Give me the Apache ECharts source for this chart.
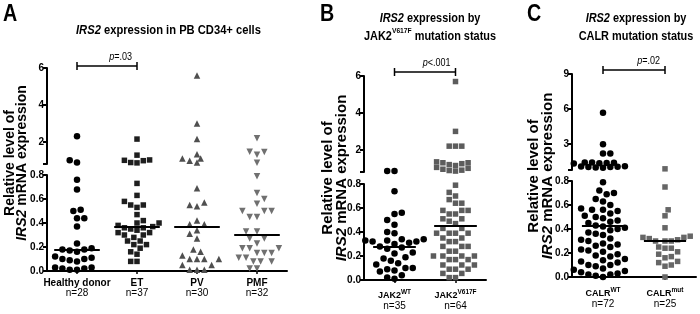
<!DOCTYPE html>
<html>
<head>
<meta charset="utf-8">
<script src="https://cdn.jsdelivr.net/npm/echarts@6.0.0/dist/echarts.min.js"></script>
<style>
  html, body { margin: 0; padding: 0; background: #fff; }
  #chart { width: 700px; height: 314px; }
</style>
</head>
<body>
<div id="chart"></div>
<script>
// values
const BREAK = 0.8;
const lowerTicks = [0, 0.2, 0.4, 0.6, 0.8];
const upperTicksAB = [2, 4, 6];
const upperTicksC = [3, 6, 9];

const catsA = ["Healthy donor", "ET", "PV", "PMF"];
const countsA = [28, 37, 30, 32];
const catsB = ["JAK2", "JAK2"];
const supB = ["WT", "V617F"];
const countsB = [35, 64];
const catsC = ["CALR", "CALR"];
const supC = ["WT", "mut"];
const countsC = [72, 25];

const pA = ["p", "=.03"];
const pB = ["p", "<.001"];
const pC = ["p", "=.02"];

const healthyDonor = [2.3, 1.0, 0.88, 0.76, 0.68, 0.51, 0.50, 0.44, 0.44, 0.37, 0.23, 0.19, 0.18, 0.18,
  0.17, 0.16, 0.12, 0.11, 0.10, 0.10, 0.09, 0.08, 0.03, 0.03, 0.02, 0.02, 0.01, 0.01];
const et = [2.15, 1.28, 1.02, 1.0, 0.98, 0.88, 0.86, 0.73, 0.63, 0.58, 0.55, 0.55, 0.53, 0.47, 0.42,
  0.40, 0.40, 0.38, 0.37, 0.36, 0.36, 0.35, 0.34, 0.32, 0.32, 0.30, 0.30, 0.28, 0.25, 0.25, 0.22,
  0.22, 0.19, 0.16, 0.14, 0.08, 0.08];
const pv = [5.6, 3.0, 2.15, 1.33, 1.1, 1.1, 0.98, 0.88, 0.69, 0.57, 0.55, 0.54, 0.42, 0.39, 0.39,
  0.34, 0.31, 0.27, 0.18, 0.16, 0.13, 0.10, 0.10, 0.10, 0.10, 0.05, 0.05, 0.01, 0.01, 0.01];
const pmf = [2.2, 1.47, 1.45, 1.3, 0.87, 0.79, 0.65, 0.60, 0.56, 0.50, 0.50, 0.50, 0.45, 0.45, 0.33,
  0.33, 0.27, 0.27, 0.23, 0.19, 0.19, 0.19, 0.15, 0.15, 0.15, 0.11, 0.11, 0.08, 0.08, 0.08, 0.02, 0.02];

const jak2Wt = [0.86, 0.86, 0.74, 0.56, 0.55, 0.50, 0.46, 0.40, 0.39, 0.34, 0.34, 0.33, 0.33, 0.32,
  0.32, 0.31, 0.30, 0.28, 0.27, 0.26, 0.23, 0.22, 0.19, 0.18, 0.16, 0.14, 0.13, 0.10, 0.10, 0.09,
  0.08, 0.07, 0.04, 0.02, 0.01];
const jak2V617F = [5.7, 3.0, 2.2, 2.2, 2.2, 1.35, 1.3, 1.3, 1.25, 1.2, 1.15, 1.05, 1.0, 0.95, 0.9,
  0.88, 0.85, 0.79, 0.73, 0.70, 0.67, 0.64, 0.64, 0.58, 0.58, 0.58, 0.55, 0.55, 0.51, 0.51, 0.49,
  0.47, 0.43, 0.43, 0.39, 0.39, 0.39, 0.39, 0.35, 0.35, 0.32, 0.32, 0.28, 0.28, 0.28, 0.24, 0.24,
  0.20, 0.20, 0.20, 0.20, 0.17, 0.17, 0.17, 0.125, 0.125, 0.125, 0.09, 0.09, 0.09, 0.055, 0.055,
  0.02, 0.02];

const calrWt = [5.7, 3.0, 2.2, 2.2, 1.45, 1.45, 1.42, 1.4, 1.38, 1.35, 1.12, 1.1, 1.08, 1.05, 1.05,
  1.02, 1.0, 0.79, 0.72, 0.70, 0.69, 0.65, 0.63, 0.60, 0.57, 0.56, 0.56, 0.55, 0.53, 0.51, 0.50,
  0.49, 0.47, 0.46, 0.45, 0.43, 0.42, 0.41, 0.40, 0.39, 0.37, 0.36, 0.35, 0.32, 0.31, 0.30, 0.28,
  0.27, 0.26, 0.25, 0.23, 0.22, 0.21, 0.19, 0.18, 0.17, 0.15, 0.14, 0.13, 0.12, 0.10, 0.10, 0.09,
  0.07, 0.06, 0.05, 0.04, 0.03, 0.02, 0.02, 0.01, 0.0];
const calrMut = [0.9, 0.75, 0.56, 0.51, 0.41, 0.34, 0.33, 0.33, 0.32, 0.31, 0.30, 0.30, 0.30, 0.25,
  0.24, 0.24, 0.21, 0.19, 0.17, 0.16, 0.13, 0.12, 0.10, 0.09, 0.0];

const FONT = '"Liberation Sans", Arial, sans-serif';

const panels = [
  {
    letter: "A", letterX: 3, left: 47, width: 240, upTop: 68, lowTop: 175, segH: 96,
    upMax: 6, upTicks: upperTicksAB, names: catsA, sups: ["", "", "", ""], counts: countsA,
    values: [healthyDonor, et, pv, pmf],
    symbols: ["circle", "rect", "triangle", "triangle"], rotates: [0, 0, 0, 180],
    sizes: [6.5, 5.5, 6.5, 6.5], colors: ["#000", "#1e1e1e", "#4f4f4f", "#707070"],
    medHalf: 0.38, p: pA, bracketGap: 2, labelSize: 10, labelMargin: 5
  },
  {
    letter: "B", letterX: 320, left: 364, width: 122, upTop: 76, lowTop: 184, segH: 96,
    upMax: 6, upTicks: upperTicksAB, names: catsB, sups: supB, counts: countsB,
    values: [jak2Wt, jak2V617F],
    symbols: ["circle", "rect"], rotates: [0, 0],
    sizes: [6.5, 5.5], colors: ["#000", "#5c5c5c"],
    medHalf: 0.35, p: pB, bracketGap: 4, labelSize: 9, labelMargin: 9
  },
  {
    letter: "C", letterX: 527, left: 572, width: 124, upTop: 74, lowTop: 181, segH: 96,
    upMax: 9, upTicks: upperTicksC, names: catsC, sups: supC, counts: countsC,
    values: [calrWt, calrMut],
    symbols: ["circle", "rect"], rotates: [0, 0],
    sizes: [6.5, 5.5], colors: ["#000", "#666"],
    medHalf: 0.34, p: pC, bracketGap: 4, labelSize: 9, labelMargin: 10
  }
];

// greedy beeswarm in pixel space, returns x offsets (px) in input order;
// squeeze < 1 lets neighbouring rows overlap a little, as in the squashed upper segments
function swarmOffsets(vals, pxPerUnit, base, d, squeeze) {
  const Dx = d + 0.8;
  const Dy = Dx * squeeze;
  const step = Dx / 2;
  const order = vals.map((v, i) => i).sort((a, b) => vals[a] - vals[b]);
  const off = vals.map(() => 0);
  const placed = [];
  order.forEach(j => {
    const py = (vals[j] - base) * pxPerUnit;
    for (let k = 0; k < 400; k++) {
      const side = (k + placed.length) % 2 ? 1 : -1;
      const cand = k === 0 ? 0 : side * Math.ceil(k / 2) * step;
      if (placed.every(q => ((q.x - cand) / Dx) ** 2 + ((q.y - py) / Dy) ** 2 >= 1)) {
        off[j] = cand;
        placed.push({ x: cand, y: py });
        break;
      }
    }
  });
  return off;
}

const median = arr => {
  const s = [...arr].sort((a, b) => a - b);
  const m = Math.floor(s.length / 2);
  return s.length % 2 ? s[m] : (s[m - 1] + s[m]) / 2;
};

const axisBlack = { show: true, onZero: false, lineStyle: { color: "#000", width: 2 } };
const tickBlack = { show: true, length: 4, lineStyle: { color: "#000", width: 2 } };
const tickLabel = { color: "#000", fontWeight: "bold", fontSize: 10, fontFamily: FONT, margin: 3 };

const grid = [];
const xAxis = [];
const yAxis = [];
const series = [];
const refs = [];

panels.forEach(p => {
  const n = p.names.length;
  const gUp = grid.length;
  const gLow = gUp + 1;
  grid.push({ left: p.left, top: p.upTop, width: p.width, height: p.segH });
  grid.push({ left: p.left, top: p.lowTop, width: p.width, height: p.segH });

  const xUp = xAxis.length;
  const xLow = xUp + 1;
  xAxis.push({ gridIndex: gUp, type: "value", min: -0.5, max: n - 0.5, show: false, position: "top" });
  xAxis.push({ gridIndex: gLow, type: "value", min: -0.5, max: n - 0.5, show: false, position: "top" });
  xAxis.push({
    gridIndex: gLow, type: "category", position: "bottom",
    data: p.names.map((c, i) => c + p.sups[i]),
    axisLine: axisBlack,
    axisTick: { show: true, alignWithLabel: true, length: 3, lineStyle: { color: "#000", width: 1.5 } },
    splitLine: { show: false },
    axisLabel: {
      interval: 0, margin: p.labelMargin, color: "#000",
      formatter: (val, i) => "{b|" + p.names[i] + "}" + (p.sups[i] ? "{s|" + p.sups[i] + "}" : "") +
        "\n{n|n=" + p.counts[i] + "}",
      rich: {
        b: { fontSize: p.labelSize, fontWeight: "bold", fontFamily: FONT, color: "#000", lineHeight: 11, padding: [3, 0, 0, 0] },
        s: { fontSize: 6.5, fontWeight: "bold", fontFamily: FONT, color: "#000", verticalAlign: "top", lineHeight: 8 },
        n: { fontSize: 10, fontFamily: FONT, color: "#000", lineHeight: 13 }
      }
    }
  });

  const yUp = yAxis.length;
  const yLow = yUp + 1;
  yAxis.push({
    gridIndex: gUp, type: "value", min: BREAK, max: p.upMax,
    axisLine: axisBlack,
    axisTick: Object.assign({ customValues: [BREAK].concat(p.upTicks) }, tickBlack),
    axisLabel: Object.assign({ customValues: p.upTicks, formatter: v => String(v) }, tickLabel),
    splitLine: { show: false }
  });
  yAxis.push({
    gridIndex: gLow, type: "value", min: 0, max: BREAK,
    axisLine: axisBlack,
    axisTick: Object.assign({ customValues: lowerTicks }, tickBlack),
    axisLabel: Object.assign({ customValues: lowerTicks, formatter: v => v.toFixed(1) }, tickLabel),
    splitLine: { show: false }
  });

  const pxPerCat = p.width / n;
  const segs = [
    { xi: xUp, yi: yUp, base: BREAK, ppu: p.segH / (p.upMax - BREAK), squeeze: 0.62, test: v => v > BREAK },
    { xi: xLow, yi: yLow, base: 0, ppu: p.segH / BREAK, squeeze: 1, test: v => v <= BREAK }
  ];

  p.values.forEach((vals, gi) => {
    const med = median(vals);
    const d = p.sizes[gi];
    segs.forEach(seg => {
      const sv = vals.filter(seg.test);
      const offs = swarmOffsets(sv, seg.ppu, seg.base, d, seg.squeeze);
      const s = {
        type: "scatter",
        xAxisIndex: seg.xi,
        yAxisIndex: seg.yi,
        symbol: p.symbols[gi],
        symbolRotate: p.rotates[gi],
        symbolSize: d,
        clip: false,
        itemStyle: { color: p.colors[gi], opacity: 1 },
        data: sv.map((v, k) => [gi + offs[k] / pxPerCat, v])
      };
      if (seg.test(med)) {
        s.markLine = {
          silent: true, symbol: ["none", "none"], animation: false,
          label: { show: false },
          lineStyle: { color: "#000", width: 2, type: "solid" },
          data: [[{ coord: [gi - p.medHalf, med] }, { coord: [gi + p.medHalf, med] }]]
        };
      }
      series.push(s);
    });
  });

  refs.push({ xUp });
});

const chart = echarts.init(document.getElementById("chart"));
chart.setOption({
  animation: false,
  backgroundColor: "#fff",
  grid, xAxis, yAxis, series
});

// labels and significance brackets
const graphic = [];
const richTitle = size => ({
  t: { fontSize: size, fontWeight: "bold", fontFamily: FONT, fill: "#000", lineHeight: 18 },
  i: { fontSize: size, fontWeight: "bold", fontStyle: "italic", fontFamily: FONT, fill: "#000", lineHeight: 18 },
  s: { fontSize: 8, fontWeight: "bold", fontFamily: FONT, fill: "#000", verticalAlign: "top" }
});
const richName = (size, lh) => ({
  a: { fontSize: size, fontWeight: "bold", fontFamily: FONT, fill: "#000", lineHeight: lh },
  i: { fontSize: size, fontWeight: "bold", fontStyle: "italic", fontFamily: FONT, fill: "#000", lineHeight: lh }
});
const yName = "{a|Relative level of}\n{i|IRS2}{a| mRNA expression}";

panels.forEach((p, pi) => {
  graphic.push({
    type: "text", x: p.letterX, y: 14, scaleX: 0.82,
    style: { text: p.letter, font: "bold 24px " + FONT, fill: "#000", align: "left", verticalAlign: "middle" }
  });
  const x0 = chart.convertToPixel({ xAxisIndex: refs[pi].xUp }, 0);
  const x1 = chart.convertToPixel({ xAxisIndex: refs[pi].xUp }, 1);
  const yb = p.upTop - p.bracketGap;
  graphic.push({ type: "line", shape: { x1: x0, y1: yb, x2: x1, y2: yb }, style: { stroke: "#000", lineWidth: 1.5 } });
  graphic.push({ type: "line", shape: { x1: x0, y1: yb - 4, x2: x0, y2: yb + 4 }, style: { stroke: "#000", lineWidth: 1.5 } });
  graphic.push({ type: "line", shape: { x1: x1, y1: yb - 4, x2: x1, y2: yb + 4 }, style: { stroke: "#000", lineWidth: 1.5 } });
  graphic.push({
    type: "text", x: x1 - 5, y: yb - 9, scaleX: 0.82,
    style: {
      text: "{i|" + p.p[0] + "}{t|" + p.p[1] + "}", align: "right", verticalAlign: "middle",
      rich: {
        i: { fontSize: 11, fontStyle: "italic", fontFamily: FONT, fill: "#000" },
        t: { fontSize: 11, fontFamily: FONT, fill: "#000" }
      }
    }
  });
});

graphic.push({
  type: "text", x: 76, y: 30, scaleX: 0.86,
  style: { text: "{i|IRS2}{t| expression in PB CD34+ cells}", align: "left", verticalAlign: "middle", rich: richTitle(13) }
});
graphic.push({
  type: "text", x: 430, y: 27, scaleX: 0.84,
  style: { text: "{i|IRS2}{t| expression by}\n{t|JAK2}{s|V617F}{t| mutation status}", align: "center", verticalAlign: "middle", rich: richTitle(13) }
});
graphic.push({
  type: "text", x: 636, y: 27, scaleX: 0.84,
  style: { text: "{i|IRS2}{t| expression by}\n{t|CALR mutation status}", align: "center", verticalAlign: "middle", rich: richTitle(13) }
});

graphic.push({
  type: "text", x: 16.5, y: 163, rotation: Math.PI / 2,
  style: { text: yName, align: "center", verticalAlign: "middle", rich: richName(14, 12) }
});
graphic.push({
  type: "text", x: 335, y: 178, rotation: Math.PI / 2,
  style: { text: yName, align: "center", verticalAlign: "middle", rich: richName(15, 14) }
});
graphic.push({
  type: "text", x: 541, y: 176, rotation: Math.PI / 2,
  style: { text: yName, align: "center", verticalAlign: "middle", rich: richName(15, 14) }
});

chart.setOption({ graphic });
</script>
</body>
</html>
